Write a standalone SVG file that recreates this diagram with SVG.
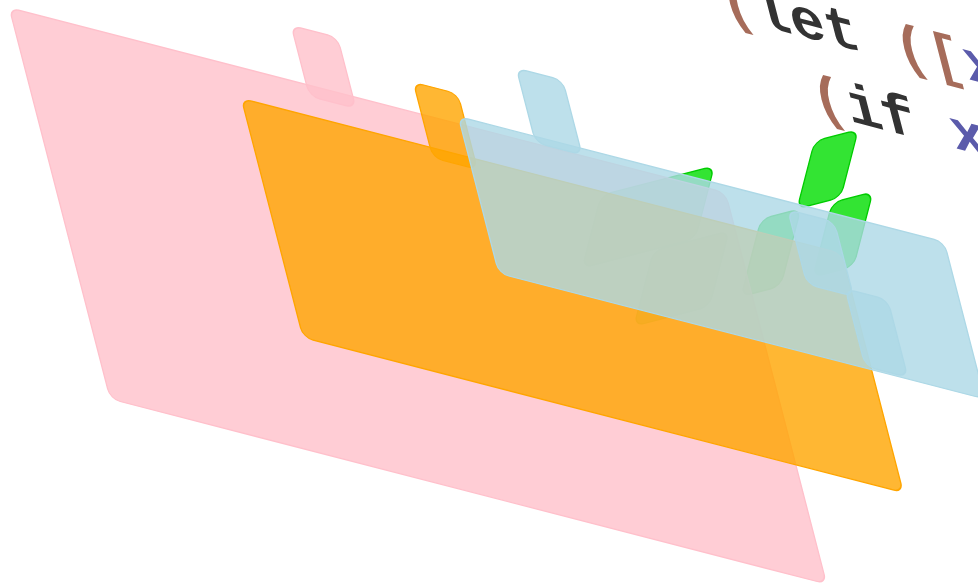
<svg xmlns="http://www.w3.org/2000/svg" width="978" height="588" viewBox="0 0 978 588">
<style>
.pink{fill:#ffc0cb;fill-opacity:.8;stroke:#ffc0cb;stroke-width:1.5}
.orange{fill:#ffa500;fill-opacity:.8;stroke:#ffa500;stroke-width:1.5}
.blue{fill:#add8e6;fill-opacity:.8;stroke:#add8e6;stroke-width:1.5}
.green{fill:#00dd00;fill-opacity:.8;stroke:#00cc00;stroke-width:1.5}
.code{font-family:"Liberation Mono","DejaVu Sans Mono",monospace;font-size:60px;font-weight:bold}
.p{fill:#a66c5a}
.k{fill:#333333}
.v{fill:#5b5bab}
</style>
<rect width="978" height="588" fill="#ffffff"/>
<g id="green-shapes" transform="matrix(0.968,-0.25,-0.25,0.968,0,0)">
  <rect class="green" x="721" y="388" width="117" height="75" rx="10"/>
  <rect class="green" x="795" y="464" width="78" height="78" rx="10"/>
  <rect class="green" x="942" y="389" width="45" height="70" rx="10"/>
  <rect class="green" x="905" y="460" width="41" height="80" rx="10"/>
  <rect class="green" x="979" y="462" width="42" height="77" rx="10"/>
</g>
<g id="scene" transform="matrix(0.968,0.25,0.25,0.968,0,0)">
  <g id="pink-folder">
    <rect class="pink" x="8" y="6" width="740" height="404" rx="10"/>
    <rect class="pink" x="315" y="-55" width="48" height="73" rx="10"/>
  </g>
  <g id="orange-folder">
    <rect class="orange" x="239" y="40" width="620" height="247" rx="10"/>
    <rect class="orange" x="434" y="-27" width="46" height="78" rx="10"/>
  </g>
  <g id="blue-folder">
    <rect class="blue" x="474" y="-2" width="502" height="162" rx="10"/>
    <rect class="blue" x="552" y="-72" width="48" height="77" rx="10"/>
    <rect class="blue" x="812" y="7" width="48" height="77" rx="10"/>
    <rect class="blue" x="853" y="78" width="44" height="80" rx="10"/>
  </g>
  <g id="code">
    <text class="code" x="797" y="-189"><tspan class="p">(</tspan><tspan class="k">let</tspan> <tspan class="p">([</tspan><tspan class="v">x</tspan></text>
    <text class="code" x="871" y="-109"><tspan class="p">(</tspan><tspan class="k">if</tspan> <tspan class="v">x</tspan></text>
  </g>
</g>
<g id="connectors"/>
</svg>
